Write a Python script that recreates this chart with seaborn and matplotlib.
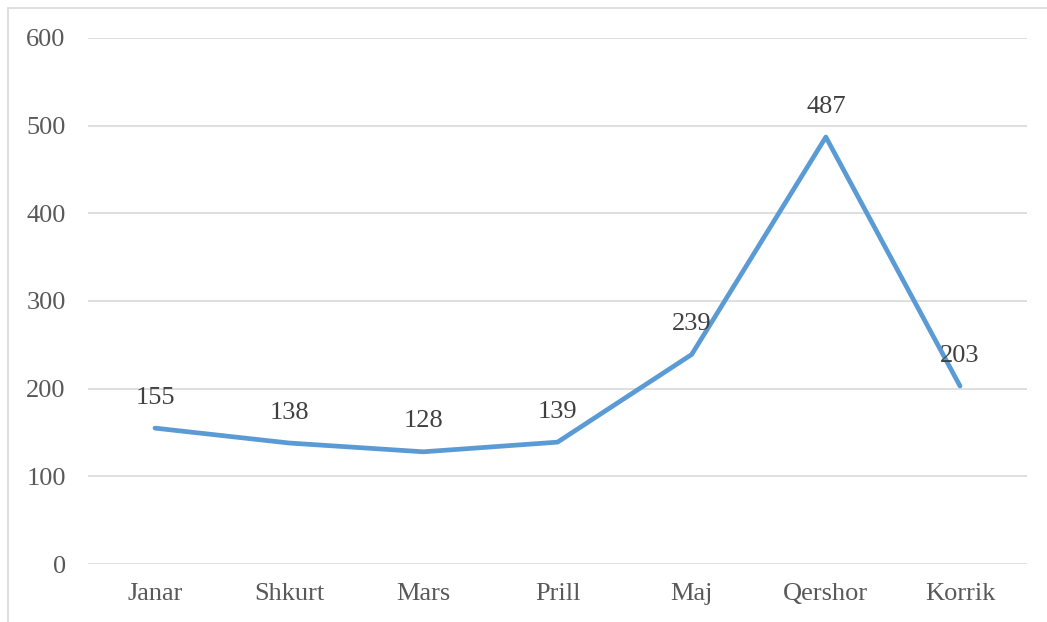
import pandas as pd
import matplotlib.pyplot as plt
import seaborn as sns
from matplotlib.patches import Rectangle

# Data
months = ['Janar', 'Shkurt', 'Mars', 'Prill', 'Maj', 'Qershor', 'Korrik']
values = [155, 138, 128, 139, 239, 487, 203]
y_ticks = [0, 100, 200, 300, 400, 500, 600]

df = pd.DataFrame({'month': months, 'value': values})

sns.set_style('white')
plt.rcParams['font.family'] = ['Liberation Serif', 'DejaVu Serif']

fig = plt.figure(figsize=(10.47, 6.22), dpi=100)
ax = fig.add_axes([0.084, 0.0932, 0.897, 0.8458])

sns.lineplot(data=df, x='month', y='value', sort=False, ax=ax,
             color='#5B9BD5', linewidth=3.4, solid_capstyle='round',
             solid_joinstyle='round')

# Value labels
for i, v in enumerate(values):
    ax.annotate(str(v), (i, v), xytext=(0, 14), textcoords='offset points',
                ha='center', va='bottom', fontsize=19, color='#404040')

ax.set_xlim(-0.5, len(months) - 0.5)
ax.set_ylim(0, 600)
ax.set_yticks(y_ticks)
ax.set_xlabel('')
ax.set_ylabel('')
ax.yaxis.grid(True, color='#D9D9D9', linewidth=1.2)
ax.set_axisbelow(True)
for s in ax.spines.values():
    s.set_visible(False)
ax.tick_params(axis='both', length=0, labelsize=19, labelcolor='#595959')
ax.tick_params(axis='y', pad=16)
ax.tick_params(axis='x', pad=14)

# Outer chart border
fig.patches.append(Rectangle((8 / 1047, -0.05), 1.1, 1 - 8 / 622 + 0.05,
                             transform=fig.transFigure, fill=False,
                             edgecolor='#D9D9D9', linewidth=1.2, zorder=0))

fig.savefig('out.png', dpi=100)
plt.close(fig)
